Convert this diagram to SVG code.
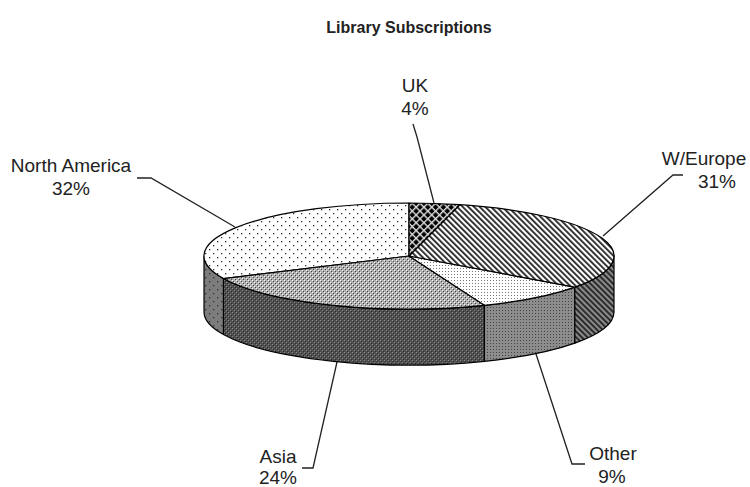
<svg xmlns="http://www.w3.org/2000/svg" width="750" height="487" viewBox="0 0 750 487">
<style>
text{font-family:"Liberation Sans",Arial,sans-serif;fill:#222;}
.lbl{font-size:19px;text-anchor:middle;}
.title{font-size:16px;font-weight:bold;text-anchor:middle;}
.edge{stroke:#000;stroke-width:1.2;stroke-linejoin:round;}
.lead{fill:none;stroke:#222;stroke-width:1.3;}
</style>
<defs>
<pattern id="naTop" width="8" height="8" patternUnits="userSpaceOnUse"><rect width="8" height="8" fill="#fff"/><rect x="1" y="1" width="1.3" height="1.3" fill="#333"/><rect x="5" y="5" width="1.3" height="1.3" fill="#333"/></pattern>
<pattern id="naSide" width="8" height="8" patternUnits="userSpaceOnUse"><rect width="8" height="8" fill="#7c7c7c"/><rect x="1" y="1" width="1.3" height="1.3" fill="#333"/><rect x="5" y="5" width="1.3" height="1.3" fill="#333"/></pattern>
<pattern id="asTop" width="4" height="4" patternUnits="userSpaceOnUse"><rect width="4" height="4" fill="#b0b0b0"/><rect x="0" y="0" width="1" height="1" fill="#f4f4f4"/><rect x="2" y="2" width="1" height="1" fill="#f4f4f4"/><rect x="1" y="1" width="1" height="1" fill="#444"/><rect x="3" y="3" width="1" height="1" fill="#444"/></pattern>
<pattern id="asSide" width="4" height="4" patternUnits="userSpaceOnUse"><rect width="4" height="4" fill="#505050"/><rect x="0" y="0" width="1" height="1" fill="#8a8a8a"/><rect x="2" y="2" width="1" height="1" fill="#8a8a8a"/><rect x="1" y="1" width="1" height="1" fill="#2a2a2a"/><rect x="3" y="3" width="1" height="1" fill="#2a2a2a"/></pattern>
<pattern id="otTop" width="3" height="3" patternUnits="userSpaceOnUse"><rect width="3" height="3" fill="#fff"/><rect x="1" y="1" width="1" height="1" fill="#777"/></pattern>
<pattern id="otSide" width="3" height="3" patternUnits="userSpaceOnUse"><rect width="3" height="3" fill="#8c8c8c"/><rect x="1" y="1" width="1" height="1" fill="#444"/></pattern>
<pattern id="weTop" width="4" height="4" patternUnits="userSpaceOnUse" patternTransform="rotate(-45)"><rect width="4" height="4" fill="#fff"/><rect width="1.8" height="4" fill="#222"/></pattern>
<pattern id="weSide" width="4" height="4" patternUnits="userSpaceOnUse" patternTransform="rotate(-45)"><rect width="4" height="4" fill="#8a8a8a"/><rect width="1.8" height="4" fill="#222"/></pattern>
<pattern id="ukTop" width="5.5" height="5.5" patternUnits="userSpaceOnUse" patternTransform="rotate(45)"><rect width="5.5" height="5.5" fill="#000"/><rect width="1.4" height="5.5" fill="#ddd"/><rect width="5.5" height="1.4" fill="#ddd"/></pattern>
</defs>

<text class="title" x="409" y="33">Library Subscriptions</text>

<g id="connectors">
<polyline class="lead" points="413,124 417,137 434,203"/>
<polyline class="lead" points="683,175 673,175 603,236"/>
<polyline class="lead" points="137,178 151,178 235,227"/>
<polyline class="lead" points="337,362 313,468 302,468"/>
<polyline class="lead" points="536,354 572,464 585,464"/>
</g>

<g id="north-america">
<path class="edge" fill="url(#naSide)" d="M223.51,278.57 A205,53 0 0,1 204,256 L204,312 A205,53 0 0,0 223.51,334.57 Z"/>
<path class="edge" fill="url(#naTop)" d="M409,256 L223.51,278.57 A205,53 0 0,1 409,203 Z"/>
<text class="lbl" x="71" y="172">North America</text>
<text class="lbl" x="71" y="195">32%</text>
</g>

<g id="asia">
<path class="edge" fill="url(#asSide)" d="M484.46,305.28 A205,53 0 0,1 223.51,278.57 L223.51,334.57 A205,53 0 0,0 484.46,361.28 Z"/>
<path class="edge" fill="url(#asTop)" d="M409,256 L484.46,305.28 A205,53 0 0,1 223.51,278.57 Z"/>
<text class="lbl" x="278" y="463">Asia</text>
<text class="lbl" x="278" y="484">24%</text>
</g>

<g id="other">
<path class="edge" fill="url(#otSide)" d="M574.85,287.15 A205,53 0 0,1 484.46,305.28 L484.46,361.28 A205,53 0 0,0 574.85,343.15 Z"/>
<path class="edge" fill="url(#otTop)" d="M409,256 L574.85,287.15 A205,53 0 0,1 484.46,305.28 Z"/>
<text class="lbl" x="613" y="460">Other</text>
<text class="lbl" x="612" y="483">9%</text>
</g>

<g id="w-europe">
<path class="edge" fill="url(#weSide)" d="M614,256 A205,53 0 0,1 574.85,287.15 L574.85,343.15 A205,53 0 0,0 614,312 Z"/>
<path class="edge" fill="url(#weTop)" d="M409,256 L460,204.66 A205,53 0 0,1 574.85,287.15 Z"/>
<text class="lbl" x="704" y="165">W/Europe</text>
<text class="lbl" x="717" y="188">31%</text>
</g>

<g id="uk">
<path class="edge" fill="url(#ukTop)" d="M409,256 L409,203 A205,53 0 0,1 460,204.66 Z"/>
<text class="lbl" x="415" y="92">UK</text>
<text class="lbl" x="415" y="115">4%</text>
</g>
</svg>
